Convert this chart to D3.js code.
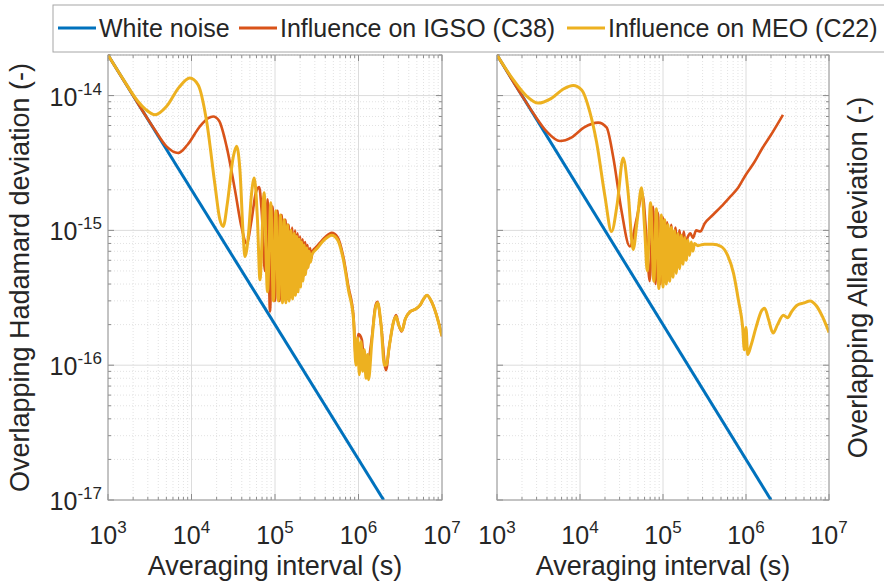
<!DOCTYPE html>
<html>
<head>
<meta charset="utf-8">
<script src="https://cdn.jsdelivr.net/npm/d3@7/dist/d3.min.js"></script>
<style>
  body { margin: 0; background: #fff; }
  text { font-family: "Liberation Sans", Arial, sans-serif; fill: #262626; }
</style>
</head>
<body>
<svg id="chart" width="884" height="585"></svg>
<script>
// ---- data: [averaging interval (s), deviation] ----
const whiteNoise = [[1000, 2.0e-14], [2.0e6, 1.0e-17]];

const hadamardIGSO = [
  [1000, 2.0e-14], [1995, 1.0e-14], [3548, 5.7e-15], [5012, 4.2e-15], [6918, 3.75e-15],
  [8913, 4.3e-15], [12590, 5.9e-15], [15850, 6.8e-15], [18200, 7.0e-15], [21380, 6.5e-15],
  [26300, 4.2e-15], [33110, 2.0e-15], [39810, 1.05e-15], [45710, 8.0e-16], [52480, 1.2e-15],
  [58880, 1.9e-15], [64570, 2.1e-15], [69180, 1.4e-15], [75860, 5.0e-16], [81280, 1.7e-15],
  [87100, 2.5e-16], [93330, 1.5e-15], [100000, 3.0e-16], [107200, 1.4e-15], [113500, 3.0e-16],
  [120200, 1.3e-15], [125900, 3.0e-16], [133400, 1.2e-15], [139600, 3.1e-16], [146200, 1.1e-15],
  [153100, 3.2e-16], [160300, 1.05e-15], [167900, 3.4e-16], [173800, 1.0e-15], [179900, 3.6e-16],
  [186200, 9.5e-16], [192800, 3.9e-16], [199500, 9.0e-16], [206500, 4.2e-16], [213800, 8.6e-16],
  [221300, 4.6e-16], [229100, 8.2e-16], [237100, 5.1e-16], [245500, 7.8e-16], [254100, 5.6e-16],
  [263000, 7.4e-16], [272300, 6.2e-16], [281800, 7.0e-16], [316200, 7.6e-16], [398100, 8.9e-16],
  [478600, 9.6e-16], [562300, 8.9e-16], [660700, 6.3e-16], [758600, 3.8e-16], [871000, 2.3e-16],
  [933300, 1.1e-16], [1.0e6, 1.7e-16], [1.096e6, 1.55e-16], [1.175e6, 1.0e-16], [1.259e6, 1.0e-16],
  [1.445e6, 1.6e-16], [1.585e6, 2.7e-16], [1.683e6, 2.95e-16], [1.862e6, 2.0e-16], [2.133e6, 9.2e-17],
  [2.344e6, 1.4e-16], [2.630e6, 2.1e-16], [2.818e6, 2.35e-16], [3.020e6, 2.0e-16], [3.289e6, 1.78e-16],
  [3.631e6, 2.2e-16], [4.169e6, 2.5e-16], [4.786e6, 2.6e-16], [5.495e6, 2.8e-16], [6.026e6, 3.1e-16],
  [6.607e6, 3.3e-16], [7.413e6, 3.0e-16], [8.511e6, 2.4e-16], [1.0e7, 1.64e-16]
];

const hadamardMEO = [
  [1000, 2.0e-14], [1585, 1.27e-14], [2239, 9.2e-15], [2818, 7.9e-15], [3660, 7.2e-15],
  [5010, 8.3e-15], [7080, 1.15e-14], [9550, 1.35e-14], [12020, 1.2e-14], [15140, 6.5e-15],
  [19050, 2.2e-15], [21880, 1.2e-15], [23990, 1.07e-15], [26920, 1.6e-15], [31620, 3.5e-15],
  [34670, 4.2e-15], [38020, 2.8e-15], [41690, 9.0e-16], [43650, 6.4e-16], [47860, 9.0e-16],
  [52480, 1.9e-15], [56490, 2.45e-15], [61660, 1.2e-15], [66070, 4.3e-16], [74130, 1.9e-15],
  [81280, 3.5e-16], [89130, 1.6e-15], [95500, 3.0e-16], [102300, 1.4e-15], [109600, 3.0e-16],
  [116100, 1.3e-15], [123000, 2.9e-16], [128800, 1.2e-15], [134900, 2.9e-16], [141300, 1.1e-15],
  [147900, 3.0e-16], [154900, 1.0e-15], [162200, 3.1e-16], [169800, 9.5e-16], [175800, 3.3e-16],
  [182000, 9.0e-16], [188400, 3.5e-16], [195000, 8.6e-16], [201800, 3.8e-16], [208900, 8.2e-16],
  [216300, 4.2e-16], [223900, 7.8e-16], [231700, 4.7e-16], [239900, 7.4e-16], [248300, 5.3e-16],
  [257000, 7.0e-16], [266100, 5.8e-16], [275400, 6.6e-16], [316200, 7.3e-16], [398100, 8.6e-16],
  [478600, 9.2e-16], [562300, 8.5e-16], [660700, 6.0e-16], [758600, 3.6e-16], [871000, 2.2e-16],
  [933300, 1.0e-16], [977200, 1.6e-16], [1.023e6, 8.5e-17], [1.072e6, 1.5e-16], [1.122e6, 9.0e-17],
  [1.175e6, 1.3e-16], [1.230e6, 8.0e-17], [1.288e6, 1.2e-16], [1.318e6, 7.8e-17], [1.445e6, 1.5e-16],
  [1.585e6, 2.6e-16], [1.698e6, 2.9e-16], [1.862e6, 2.0e-16], [2.042e6, 1.0e-16], [2.138e6, 1.0e-16],
  [2.344e6, 1.4e-16], [2.630e6, 2.1e-16], [2.818e6, 2.3e-16], [3.020e6, 2.0e-16], [3.311e6, 1.8e-16],
  [3.631e6, 2.2e-16], [4.169e6, 2.5e-16], [4.786e6, 2.6e-16], [5.495e6, 2.8e-16], [6.026e6, 3.1e-16],
  [6.607e6, 3.3e-16], [7.413e6, 3.0e-16], [8.511e6, 2.4e-16], [1.0e7, 1.64e-16]
];

const allanIGSO = [
  [1000, 2.0e-14], [1995, 1.0e-14], [2818, 7.2e-15], [3981, 5.4e-15], [5730, 4.6e-15],
  [7943, 4.9e-15], [11220, 5.8e-15], [16560, 6.3e-15], [20890, 5.8e-15], [25120, 3.5e-15],
  [31620, 1.4e-15], [39810, 7.6e-16], [47860, 1.2e-15], [56620, 1.84e-15], [63100, 9.0e-16],
  [69180, 4.2e-16], [75860, 1.5e-15], [81280, 4.0e-16], [87100, 1.35e-15], [93330, 4.0e-16],
  [100000, 1.25e-15], [104700, 4.5e-16], [112200, 1.15e-15], [117500, 5.0e-16], [125900, 1.1e-15],
  [131800, 5.5e-16], [141300, 1.05e-15], [147900, 6.2e-16], [158500, 1.0e-15], [166000, 7.0e-16],
  [177800, 9.8e-16], [186200, 8.0e-16], [199500, 9.0e-16], [213800, 9.5e-16], [229100, 8.8e-16],
  [251200, 1.0e-15], [281800, 9.8e-16], [316200, 1.12e-15], [398100, 1.3e-15], [501200, 1.5e-15],
  [631000, 1.75e-15], [794300, 2.05e-15], [1.0e6, 2.6e-15], [1.259e6, 3.2e-15], [1.585e6, 4.1e-15],
  [1.995e6, 5.1e-15], [2.786e6, 7.2e-15]
];

const allanMEO = [
  [1000, 2.0e-14], [1585, 1.3e-14], [2239, 1.0e-14], [3140, 8.8e-15], [4467, 9.5e-15],
  [6310, 1.12e-14], [8280, 1.19e-14], [10470, 1.1e-14], [13180, 7.5e-15], [15850, 4.5e-15],
  [19950, 1.8e-15], [23990, 9.8e-16], [28180, 1.6e-15], [33110, 3.44e-15], [38020, 1.9e-15],
  [43650, 7.2e-16], [48980, 1.2e-15], [55080, 2.07e-15], [60260, 1.0e-15], [64570, 5.0e-16],
  [70790, 1.6e-15], [77620, 4.2e-16], [83180, 1.45e-15], [89130, 3.7e-16], [95500, 1.3e-15],
  [100000, 3.8e-16], [104700, 1.2e-15], [109600, 4.0e-16], [114800, 1.1e-15], [120200, 4.2e-16],
  [125900, 1.05e-15], [131800, 4.5e-16], [138000, 1.0e-15], [144500, 4.8e-16], [151400, 9.5e-16],
  [158500, 5.2e-16], [166000, 9.2e-16], [173800, 5.6e-16], [182000, 8.8e-16], [190500, 6.0e-16],
  [199500, 8.5e-16], [208900, 6.5e-16], [218800, 8.2e-16], [229100, 7.0e-16], [239900, 8.0e-16],
  [263000, 7.7e-16], [316200, 7.9e-16], [398100, 7.9e-16], [501200, 7.6e-16], [602600, 6.5e-16],
  [707900, 4.8e-16], [812800, 3.0e-16], [912000, 1.9e-16], [955000, 1.3e-16], [1.0e6, 1.9e-16],
  [1.047e6, 1.2e-16], [1.148e6, 1.4e-16], [1.318e6, 1.9e-16], [1.549e6, 2.55e-16], [1.679e6, 2.65e-16],
  [1.862e6, 2.2e-16], [2.118e6, 1.73e-16], [2.399e6, 2.0e-16], [2.818e6, 2.35e-16], [3.162e6, 2.25e-16],
  [3.548e6, 2.5e-16], [4.169e6, 2.8e-16], [5.012e6, 2.9e-16], [5.888e6, 3.0e-16], [7.079e6, 2.75e-16],
  [8.318e6, 2.3e-16], [1.0e7, 1.75e-16]
];

const seriesNames = ['White noise', 'Influence on IGSO (C38)', 'Influence on MEO (C22)'];
const seriesColors = ['#0072BD', '#D95319', '#EDB120'];
const xDomain = [1e3, 1e7];
const yDomain = [1e-17, 2e-14];
const yLabels = ['Overlapping Hadamard deviation (-)', 'Overlapping Allan deviation (-)'];
const xLabel = 'Averaging interval (s)';

// ---- layout ----
const svg = d3.select('#chart');
const plotTop = 55, plotBottom = 500;

const panels = [
	{ left: 108, right: 442, yLabel: yLabels[0], labelX: 29, tickLabels: true,
		data: [whiteNoise, hadamardIGSO, hadamardMEO] },
	{ left: 497, right: 829, yLabel: yLabels[1], labelX: 867, tickLabels: false,
		data: [whiteNoise, allanIGSO, allanMEO] }
];

const isDecade = v => Math.abs(Math.log10(v) - Math.round(Math.log10(v))) < 1e-6;

function powLabel(sel, v) {
	sel.append('tspan').text('10');
	sel.append('tspan')
		.attr('dy', -11)
		.style('font-size', '17px')
		.text(Math.round(Math.log10(v)));
}

panels.forEach((p, i) => {
	const x = d3.scaleLog().domain(xDomain).range([p.left, p.right]);
	const y = d3.scaleLog().domain(yDomain).range([plotBottom, plotTop]);
	const g = svg.append('g');

	const xTicks = x.ticks().filter(v => v >= xDomain[0] && v <= xDomain[1]);
	const yTicks = y.ticks().filter(v => v >= yDomain[0] && v <= yDomain[1]);

	// minor grid
	g.append('g').selectAll('line')
		.data(xTicks.filter(v => !isDecade(v)))
		.enter().append('line')
		.attr('x1', d => x(d)).attr('x2', d => x(d))
		.attr('y1', plotTop).attr('y2', plotBottom)
		.attr('stroke', '#e2e2e2').attr('stroke-dasharray', '1,2');
	g.append('g').selectAll('line')
		.data(yTicks.filter(v => !isDecade(v)))
		.enter().append('line')
		.attr('x1', p.left).attr('x2', p.right)
		.attr('y1', d => y(d)).attr('y2', d => y(d))
		.attr('stroke', '#e2e2e2').attr('stroke-dasharray', '1,2');

	// major grid
	g.append('g').selectAll('line')
		.data(xTicks.filter(isDecade))
		.enter().append('line')
		.attr('x1', d => x(d)).attr('x2', d => x(d))
		.attr('y1', plotTop).attr('y2', plotBottom)
		.attr('stroke', '#dcdcdc');
	g.append('g').selectAll('line')
		.data(yTicks.filter(isDecade))
		.enter().append('line')
		.attr('x1', p.left).attr('x2', p.right)
		.attr('y1', d => y(d)).attr('y2', d => y(d))
		.attr('stroke', '#dcdcdc');

	// ticks, inward on all four sides
	const tk = g.append('g').attr('stroke', '#8a8a8a');
	xTicks.forEach(v => {
		const len = isDecade(v) ? 6 : 3;
		tk.append('line').attr('x1', x(v)).attr('x2', x(v)).attr('y1', plotBottom).attr('y2', plotBottom - len);
		tk.append('line').attr('x1', x(v)).attr('x2', x(v)).attr('y1', plotTop).attr('y2', plotTop + len);
	});
	yTicks.forEach(v => {
		const len = isDecade(v) ? 6 : 3;
		tk.append('line').attr('x1', p.left).attr('x2', p.left + len).attr('y1', y(v)).attr('y2', y(v));
		tk.append('line').attr('x1', p.right).attr('x2', p.right - len).attr('y1', y(v)).attr('y2', y(v));
	});

	// data lines
	const clipId = `clip-${i}`;
	svg.append('clipPath').attr('id', clipId)
		.append('rect')
		.attr('x', p.left).attr('y', plotTop - 2)
		.attr('width', p.right - p.left).attr('height', plotBottom - plotTop + 2);

	const line = d3.line()
		.x(d => x(d[0]))
		.y(d => y(d[1]))
		.curve(d3.curveMonotoneX);

	const widths = [3, 2.6, 3];
	g.append('g').attr('clip-path', `url(#${clipId})`)
		.selectAll('path')
		.data(p.data)
		.enter().append('path')
		.attr('d', line)
		.attr('fill', 'none')
		.attr('stroke', (d, k) => seriesColors[k])
		.attr('stroke-width', (d, k) => widths[k])
		.attr('stroke-linejoin', 'round');

	// box
	g.append('rect')
		.attr('x', p.left).attr('y', plotTop)
		.attr('width', p.right - p.left).attr('height', plotBottom - plotTop)
		.attr('fill', 'none').attr('stroke', '#9a9a9a');

	// x tick labels
	g.append('g').selectAll('text')
		.data(xTicks.filter(isDecade))
		.enter().append('text')
		.attr('x', d => x(d)).attr('y', 544)
		.attr('text-anchor', 'middle')
		.style('font-size', '25px')
		.each(function(d) { powLabel(d3.select(this), d); });

	// y tick labels (left panel only)
	if (p.tickLabels) {
		g.append('g').selectAll('text')
			.data(yTicks.filter(isDecade))
			.enter().append('text')
			.attr('x', p.left - 6).attr('y', d => y(d) + 10)
			.attr('text-anchor', 'end')
			.style('font-size', '25px')
			.each(function(d) { powLabel(d3.select(this), d); });
	}

	// axis labels
	g.append('text')
		.attr('x', (p.left + p.right) / 2).attr('y', 575)
		.attr('text-anchor', 'middle')
		.style('font-size', '27px')
		.text(xLabel);

	g.append('text')
		.attr('transform', `translate(${p.labelX},${(plotTop + plotBottom) / 2}) rotate(-90)`)
		.attr('text-anchor', 'middle')
		.style('font-size', '27px')
		.text(p.yLabel);
});

// ---- legend ----
const legend = svg.append('g');
legend.append('rect')
	.attr('x', 53).attr('y', 5)
	.attr('width', 850).attr('height', 47)
	.attr('fill', '#fff').attr('stroke', '#a6a6a6');

const legendX = [58, 239, 567];
seriesNames.forEach((name, k) => {
	legend.append('line')
		.attr('x1', legendX[k]).attr('x2', legendX[k] + 38)
		.attr('y1', 28).attr('y2', 28)
		.attr('stroke', seriesColors[k]).attr('stroke-width', 3);
	legend.append('text')
		.attr('x', legendX[k] + 41).attr('y', 37)
		.style('font-size', '25px')
		.text(name);
});
</script>
</body>
</html>
